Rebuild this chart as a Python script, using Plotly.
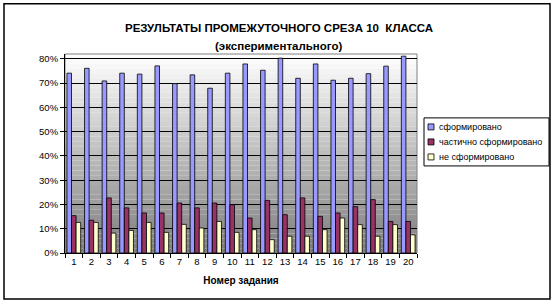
import plotly.graph_objects as go

categories = [str(i) for i in range(1, 21)]
formed = [74.1, 76.1, 70.9, 74.1, 73.7, 77.1, 69.8, 73.4, 67.9, 74.1,
          77.9, 75.3, 80.3, 72.0, 77.9, 71.2, 72.0, 73.9, 77.0, 81.1]
partly = [15.4, 13.5, 22.7, 18.6, 16.5, 16.5, 20.6, 18.6, 20.6, 19.9,
          14.4, 21.7, 15.8, 22.7, 15.1, 16.5, 19.1, 22.0, 13.0, 13.0]
notformed = [12.6, 12.6, 8.2, 9.3, 12.6, 8.5, 11.8, 10.3, 13.0, 8.5,
             9.6, 5.5, 6.9, 6.9, 9.6, 14.4, 11.7, 6.9, 11.7, 7.5]
series_names = ["сформировано", "частично сформировано", "не сформировано"]
series_colors = ["#9999FF", "#993366", "#FFFFCC"]

W, H = 556, 304
YMAX = 0.82
L, R, B = 65, 417, 253
T = B - (B - 59) / 0.8 * YMAX  # keep 80% at y=59

def px_x(p):
    return (p - L) / (R - L)

def px_y(p):
    return (B - p) / (B - T)

fig = go.Figure()
for name, vals, col in zip(series_names, [formed, partly, notformed], series_colors):
    fig.add_trace(go.Bar(
        x=categories, y=[v / 100 for v in vals], name=name, cliponaxis=False,
        marker=dict(color=col, line=dict(color="black", width=0.8)),
        showlegend=False,
    ))

shapes = []
# gradient back wall
n = 41
for i in range(n):
    y0 = YMAX * i / n
    y1 = YMAX * (i + 1) / n
    t = (i + 0.5) / n
    g = int(125 + (255 - 125) * t)
    shapes.append(dict(type="rect", xref="paper", yref="y", x0=0, x1=1, y0=y0, y1=y1,
                       fillcolor=f"rgb({g},{g},{g})", line=dict(width=0), layer="below"))
# plot area frame
shapes.append(dict(type="rect", xref="paper", yref="paper", x0=0, x1=1, y0=0, y1=1,
                   line=dict(color="#808080", width=1), layer="below"))
# outer border
shapes.append(dict(type="rect", xref="paper", yref="paper",
                   x0=px_x(4), x1=px_x(550), y0=px_y(299), y1=px_y(4),
                   line=dict(color="black", width=1.5)))

fnt = "Liberation Sans, Arial, sans-serif"
annotations = [
    dict(text="<b>РЕЗУЛЬТАТЫ ПРОМЕЖУТОЧНОГО СРЕЗА 10  КЛАССА</b>", xref="paper", yref="paper",
         x=px_x(279), y=px_y(20), showarrow=False, font=dict(size=11.5, color="black", family=fnt)),
    dict(text="<b>(экспериментального)</b>", xref="paper", yref="paper",
         x=px_x(279), y=px_y(38), showarrow=False, font=dict(size=11.5, color="black", family=fnt)),
]

# manual legend (compact, like the original)
shapes.append(dict(type="rect", xref="paper", yref="paper",
                   x0=px_x(424), x1=px_x(549), y0=px_y(166), y1=px_y(118),
                   line=dict(color="black", width=1), fillcolor="white"))
for k, (name, col) in enumerate(zip(series_names, series_colors)):
    yc = 127 + 15 * k
    shapes.append(dict(type="rect", xref="paper", yref="paper",
                       x0=px_x(428), x1=px_x(434), y0=px_y(yc + 3), y1=px_y(yc - 3),
                       line=dict(color="black", width=0.8), fillcolor=col))
    annotations.append(dict(text=name, xref="paper", yref="paper", x=px_x(437), y=px_y(yc),
                            xanchor="left", yanchor="middle", showarrow=False,
                            font=dict(size=9, family=fnt, color="black")))

fig.update_layout(
    width=W, height=H,
    margin=dict(l=L, r=W - R, t=T, b=H - B, pad=0),
    paper_bgcolor="white", plot_bgcolor="white",
    barmode="group", bargap=0.22, bargroupgap=0,
    font=dict(family=fnt, size=9, color="black"),
    shapes=shapes, annotations=annotations, showlegend=False,
    xaxis=dict(type="category", tickson="boundaries", ticks="outside", ticklen=4,
               tickcolor="black", showline=True, linecolor="black", linewidth=1,
               showgrid=False, tickfont=dict(size=9.5), tickangle=0,
               title=dict(text="<b>Номер задания</b>", font=dict(size=10), standoff=10)),
    yaxis=dict(range=[0, YMAX], dtick=0.1, tickformat=".0%", ticks="outside", ticklen=4,
               tickcolor="black", showline=True, linecolor="black", linewidth=1,
               showgrid=True, gridcolor="black", gridwidth=1, zeroline=False,
               tickfont=dict(size=9.5)),
)

fig.write_html("out.html")
